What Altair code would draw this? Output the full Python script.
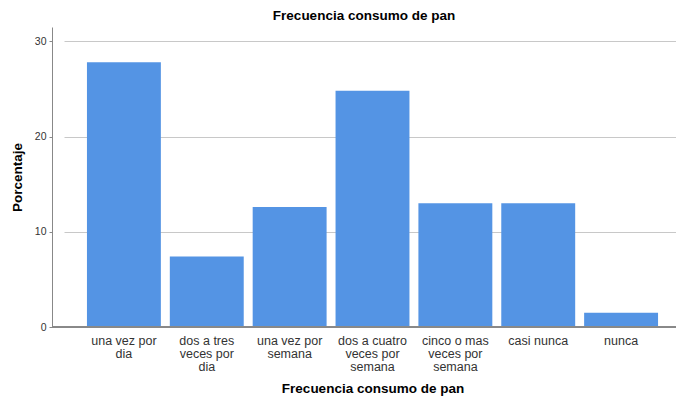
import altair as alt
import pandas as pd

categories = ["una vez por|dia", "dos a tres|veces por|dia", "una vez por|semana",
              "dos a cuatro|veces por|semana", "cinco o mas|veces por|semana",
              "casi nunca", "nunca"]
percent = [27.8, 7.4, 12.6, 24.8, 13.0, 13.0, 1.5]
y_ticks = [0, 10, 20, 30]

df = pd.DataFrame({"cat": categories, "pct": percent})
FONT = "Liberation Sans"
W, H = 624, 300

bars = alt.Chart(df).mark_bar(color="#5494e4").encode(
    x=alt.X("cat:N", sort=categories,
            scale=alt.Scale(range=[12, 629], paddingInner=0.108, paddingOuter=0.277),
            axis=alt.Axis(title="Frecuencia consumo de pan", labelAngle=0,
                          labelExpr="split(datum.label, '|')", labelLineHeight=13,
                          labelFontSize=12.5, labelColor="#333333", labelPadding=7,
                          labelBaseline="top", ticks=False, domain=False, grid=False,
                          titleFontSize=13.5, titleFontWeight="bold", titleColor="#000000",
                          titlePadding=9, labelFont=FONT, titleFont=FONT)),
    y=alt.Y("pct:Q", scale=alt.Scale(domain=[0, 31.5], nice=False),
            axis=alt.Axis(title="Porcentaje", values=y_ticks, labelFontSize=10.5,
                          labelColor="#333333", tickSize=3, tickColor="#888888",
                          domainColor="#888888", gridColor="#c8c8c8",
                          labelPadding=3, titleFontSize=13.5, titleFontWeight="bold",
                          titleColor="#000000", titlePadding=10,
                          labelFont=FONT, titleFont=FONT)),
)

baseline = alt.Chart(df).mark_rule(color="#888888", strokeWidth=1).encode(
    y=alt.datum(0), x=alt.value(0), x2=alt.value(W)
)

chart = (bars + baseline).properties(
    width=W, height=H,
    title=alt.TitleParams("Frecuencia consumo de pan", fontSize=13.5, fontWeight="bold",
                          font=FONT, color="#000000", anchor="middle", offset=5),
    autosize=alt.AutoSizeParams(type="none"),
    padding={"left": 44, "top": 19, "right": 0, "bottom": 70},
).configure_view(stroke=None).configure_axisY(grid=True)

chart.save("out.html", embed_options={"renderer": "svg", "actions": False})
